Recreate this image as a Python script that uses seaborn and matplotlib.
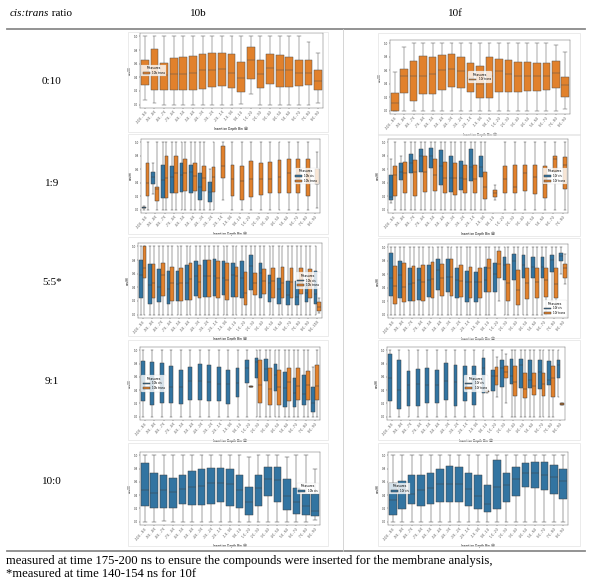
import numpy as np
import pandas as pd
import matplotlib
matplotlib.use("Agg")
import matplotlib.pyplot as plt
import seaborn as sns
from matplotlib.lines import Line2D
from matplotlib.patches import Rectangle

# ---------------- data (each box: [lo, q1, median, q3, hi]) ----------------
ROW_LABELS = ["0:10", "1:9", "5:5*", "9:1", "10:0"]
COL_LABELS = ["10b", "10f"]
BIN_LABELS = ["-10.0 - -9.0", "-9.0 - -8.0", "-8.0 - -7.0", "-7.0 - -6.0", "-6.0 - -5.0",
              "-5.0 - -4.0", "-4.0 - -3.0", "-3.0 - -2.0", "-2.0 - -1.0", "-1.0 - 0.0",
              "0.0 - 1.0", "1.0 - 2.0", "2.0 - 3.0", "3.0 - 4.0", "4.0 - 5.0",
              "5.0 - 6.0", "6.0 - 7.0", "7.0 - 8.0", "8.0 - 9.0", "9.0 - 10.0"]
X_LABEL = "Insertion Depth Bin (Å)"
Y_LABEL = "cos(θ)"
FOOTNOTE_1 = "measured at time 175-200 ns to ensure the compounds were inserted for the membrane analysis,"
FOOTNOTE_2 = "*measured at time 140-154 ns for 10f"

B_0_10_TRANS = [[0.06,0.28,0.45,0.66,1.0],[0.02,0.21,0.45,0.81,1.0],[0.0,0.21,0.43,0.61,1.0],
                [0.0,0.21,0.45,0.68,1.0],[0.0,0.21,0.45,0.70,1.0],[0.0,0.22,0.47,0.71,1.0],
                [0.0,0.23,0.50,0.74,1.0],[0.0,0.26,0.51,0.76,1.0],[0.0,0.27,0.52,0.76,1.0],
                [0.0,0.24,0.47,0.74,1.0],[0.01,0.18,0.39,0.63,1.0],[0.15,0.38,0.65,0.85,1.0],
                [0.0,0.25,0.45,0.66,1.0],[0.0,0.30,0.54,0.74,1.0],[0.0,0.26,0.51,0.73,1.0],
                [0.0,0.26,0.50,0.70,1.0],[0.0,0.27,0.47,0.65,1.0],[0.0,0.28,0.47,0.65,0.92],
                [0.02,0.22,0.35,0.51,0.75]]

F_0_10_TRANS = [[0.0,0.0,0.11,0.26,0.57],[0.0,0.26,0.52,0.62,0.95],[0.0,0.15,0.52,0.74,1.0],
                [0.0,0.25,0.52,0.81,1.0],[0.0,0.24,0.55,0.80,1.0],[0.0,0.30,0.61,0.82,1.0],
                [0.0,0.35,0.62,0.84,1.0],[0.0,0.34,0.59,0.79,1.0],[0.0,0.27,0.49,0.71,1.0],
                [0.0,0.19,0.40,0.67,1.0],[0.0,0.19,0.51,0.80,1.0],[0.0,0.28,0.59,0.77,1.0],
                [0.0,0.28,0.54,0.75,1.0],[0.0,0.28,0.52,0.72,1.0],[0.0,0.29,0.52,0.73,1.0],
                [0.0,0.29,0.52,0.71,1.0],[0.0,0.31,0.52,0.71,1.0],[0.0,0.33,0.56,0.74,0.97],
                [0.02,0.20,0.38,0.50,0.87]]

B_1_9_CIS = [[0.0,0.02,0.03,0.04,0.05],[0.23,0.38,0.49,0.56,0.70],[0.0,0.18,0.44,0.66,1.0],
             [0.0,0.24,0.49,0.65,1.0],[0.0,0.26,0.51,0.69,1.0],[0.0,0.25,0.56,0.66,1.0],
             [0.0,0.15,0.34,0.54,1.0],[0.0,0.11,0.26,0.41,0.60]]
B_1_9_TRANS = [[0.0,0.20,0.40,0.69,1.0],[0.0,0.13,0.30,0.34,1.0],[0.0,0.18,0.47,0.80,1.0],
               [0.0,0.24,0.55,0.79,1.0],[0.0,0.28,0.55,0.75,1.0],[0.0,0.27,0.50,0.69,1.0],
               [0.0,0.27,0.47,0.65,1.0],[0.0,0.26,0.49,0.63,1.0],[0.15,0.47,0.65,0.95,1.0],
               [0.0,0.21,0.46,0.67,1.0],[0.0,0.15,0.43,0.65,1.0],[0.0,0.19,0.45,0.73,1.0],
               [0.0,0.22,0.45,0.70,1.0],[0.0,0.24,0.45,0.71,1.0],[0.0,0.24,0.49,0.74,1.0],
               [0.0,0.25,0.54,0.76,1.0],[0.0,0.25,0.52,0.75,1.0],[0.0,0.21,0.56,0.75,1.0],
               [0.03,0.38,0.40,0.60,0.85]]

F_1_9_CIS = [[0.10,0.14,0.19,0.51,0.75],[0.0,0.44,0.56,0.70,0.80],[0.0,0.54,0.69,0.83,1.0],
             [0.0,0.56,0.79,0.90,1.0],[0.0,0.62,0.79,0.91,1.0],[0.0,0.37,0.65,0.88,1.0],
             [0.0,0.26,0.47,0.80,1.0],[0.0,0.29,0.47,0.73,1.0],[0.0,0.42,0.64,0.90,1.0],
             [0.0,0.48,0.64,0.79,1.0]]
F_1_9_TRANS = [[0.0,0.21,0.51,0.65,1.0],[0.0,0.24,0.55,0.71,1.0],[0.0,0.20,0.56,0.74,1.0],
               [0.0,0.26,0.56,0.79,1.0],[0.0,0.27,0.52,0.75,1.0],[0.0,0.24,0.47,0.71,1.0],
               [0.0,0.22,0.47,0.70,1.0],[0.0,0.24,0.46,0.67,1.0],[0.0,0.24,0.45,0.67,1.0],
               [0.0,0.16,0.33,0.56,1.0],[0.14,0.19,0.25,0.29,0.36],[0.0,0.24,0.45,0.65,1.0],
               [0.0,0.25,0.34,0.67,1.0],[0.0,0.27,0.55,0.67,1.0],[0.0,0.23,0.48,0.66,1.0],
               [0.0,0.17,0.38,0.65,1.0],[0.0,0.56,0.75,0.80,1.0],[0.0,0.30,0.66,0.78,1.0]]

B_5_5_CIS = [[0,0.25,0.58,0.80,1],[0,0.16,0.43,0.74,1],[0,0.19,0.41,0.67,1],[0,0.16,0.38,0.64,1],
             [0,0.20,0.45,0.64,1],[0,0.21,0.47,0.73,1],[0,0.27,0.56,0.79,1],[0,0.26,0.56,0.80,1],
             [0,0.27,0.56,0.82,1],[0,0.29,0.53,0.78,1],[0,0.26,0.58,0.75,1],[0,0.25,0.53,0.78,1],
             [0,0.36,0.71,0.88,1],[0,0.24,0.61,0.75,1],[0,0.19,0.46,0.58,1],[0,0.16,0.37,0.53,1],
             [0,0.14,0.29,0.49,1],[0,0.14,0.26,0.49,1],[0,0.19,0.31,0.46,1],[0,0.16,0.30,0.64,1]]
B_5_5_TRANS = [[0,0.53,0.68,1.0,1],[0,0.25,0.47,0.74,1],[0,0.27,0.58,0.76,1],[0,0.20,0.46,0.70,1],
               [0,0.20,0.47,0.69,1],[0,0.22,0.52,0.76,1],[0,0.24,0.48,0.73,1],[0,0.26,0.56,0.80,1],
               [0,0.24,0.54,0.79,1],[0,0.22,0.51,0.75,1],[0,0.26,0.56,0.70,1],[0,0.14,0.32,0.63,1],
               [0,0.29,0.47,0.61,1],[0,0.30,0.49,0.67,1],[0,0.24,0.49,0.68,1],[0,0.25,0.46,0.70,1],
               [0,0.25,0.48,0.68,1],[0,0.30,0.48,0.68,1],[0,0.24,0.46,0.67,1],[0.02,0.05,0.11,0.19,0.25]]

F_5_5_CIS = [[0,0.27,0.54,0.91,1],[0,0.25,0.59,0.80,1],[0,0.20,0.46,0.70,1],[0,0.22,0.51,0.70,1],
             [0,0.26,0.51,0.74,1],[0,0.36,0.67,0.83,1],[0,0.33,0.56,0.82,1],[0,0.24,0.52,0.70,1],
             [0,0.19,0.49,0.65,1],[0,0.19,0.49,0.64,1],[0,0.33,0.52,0.71,1],[0,0.34,0.60,0.77,1],
             [0,0.51,0.74,0.86,1],[0,0.51,0.79,0.90,1],[0,0.55,0.74,0.88,1],[0,0.54,0.71,0.86,1],
             [0,0.54,0.71,0.85,1],[0.2,0.64,0.81,0.88,1],[0.6,0.79,0.87,0.91,1]]
F_5_5_TRANS = [[0,0.16,0.43,0.72,1],[0,0.19,0.41,0.77,1],[0,0.20,0.47,0.72,1],[0,0.20,0.49,0.74,1],
               [0,0.25,0.53,0.78,1],[0,0.27,0.55,0.76,1],[0,0.27,0.56,0.82,1],[0,0.26,0.50,0.74,1],
               [0,0.25,0.49,0.71,1],[0,0.24,0.49,0.70,1],[0,0.34,0.70,0.83,1],[0.2,0.55,0.76,0.94,1],
               [0,0.21,0.47,0.75,1],[0,0.14,0.36,0.66,1],[0,0.23,0.47,0.70,1],[0,0.25,0.49,0.70,1],
               [0,0.26,0.51,0.69,1],[0.1,0.25,0.45,0.69,1],[0.45,0.54,0.69,0.76,0.9]]

B_9_1_CIS = [[0,0.24,0.52,0.84,1],[0,0.18,0.53,0.82,1],[0,0.20,0.52,0.81,1],[0,0.20,0.45,0.76,1],
             [0,0.19,0.45,0.70,1],[0,0.25,0.54,0.75,1],[0,0.25,0.54,0.79,1],[0,0.24,0.52,0.78,1],
             [0,0.24,0.49,0.75,1],[0,0.19,0.49,0.71,1],[0,0.30,0.51,0.73,1],[0,0.51,0.73,0.86,1],
             [0,0.58,0.83,0.88,1],[0,0.54,0.72,0.87,1],[0,0.38,0.63,0.79,1],[0,0.15,0.43,0.68,1],
             [0,0.15,0.35,0.58,1],[0,0.18,0.34,0.63,1],[0,0.07,0.20,0.44,0.75]]
B_9_1_TRANS = [None, None, None, None, None, None, None, None, None, None, None,
               [0.44,0.45,0.45,0.46,0.46],[0,0.20,0.48,0.86,1],[0,0.18,0.41,0.73,1],
               [0,0.18,0.44,0.71,1],[0,0.23,0.52,0.74,1],[0,0.25,0.46,0.73,1],
               [0,0.25,0.48,0.69,1],[0,0.25,0.46,0.78,1]]

F_9_1_CIS = [[0,0.23,0.58,0.95,1],[0,0.12,0.40,0.86,1],[0,0.16,0.48,0.69,1],[0,0.16,0.49,0.72,1],
             [0,0.20,0.48,0.74,1],[0,0.20,0.48,0.71,1],[0,0.25,0.54,0.81,1],[0,0.16,0.53,0.78,1],
             [0,0.23,0.52,0.77,1],[0,0.18,0.48,0.76,1],[0,0.35,0.73,0.88,1],[0,0.39,0.62,0.71,1],
             [0,0.44,0.73,0.86,1],[0,0.49,0.62,0.87,1],[0,0.43,0.78,0.87,1],[0,0.43,0.56,0.86,1],
             [0,0.42,0.68,0.86,1],[0,0.48,0.56,0.84,1],[0.3,0.59,0.78,0.86,1]]
F_9_1_TRANS = [None, None, None, None, None, None, None, None, None, None,
               [0.35,0.37,0.38,0.39,0.40],[0.3,0.47,0.61,0.75,0.9],[0.2,0.58,0.67,0.77,0.95],
               [0,0.31,0.53,0.77,1],[0,0.28,0.41,0.66,1],[0,0.32,0.46,0.66,1],
               [0,0.31,0.49,0.66,1],[0,0.30,0.58,0.76,1],[0.17,0.18,0.19,0.20,0.21]]

B_10_0_CIS = [[0,0.23,0.47,0.88,1],[0,0.20,0.43,0.74,1],[0.01,0.21,0.48,0.70,1],[0,0.20,0.44,0.66,1],
              [0,0.26,0.49,0.70,1],[0,0.25,0.53,0.76,1],[0,0.25,0.54,0.79,1],[0,0.27,0.58,0.81,1],
              [0,0.30,0.59,0.81,1],[0,0.24,0.57,0.79,1],[0,0.21,0.47,0.70,1],[0,0.10,0.30,0.52,0.97],
              [0,0.23,0.51,0.71,1],[0,0.39,0.64,0.83,1],[0,0.29,0.63,0.83,1],[0,0.18,0.38,0.65,0.98],
              [0,0.12,0.30,0.51,1],[0,0.10,0.23,0.41,1],[0.02,0.09,0.16,0.41,0.80]]

F_10_0_CIS = [[0,0.10,0.33,0.59,1],[0,0.19,0.50,0.61,1],[0,0.26,0.41,0.70,1],[0,0.24,0.47,0.70,1],
              [0,0.27,0.51,0.74,1],[0,0.29,0.57,0.80,1],[0,0.29,0.57,0.84,1],[0,0.29,0.57,0.82,1],
              [0,0.24,0.49,0.73,1],[0,0.19,0.39,0.70,1],[0,0.14,0.26,0.55,1],[0,0.19,0.53,0.93,1],
              [0,0.30,0.55,0.74,1],[0,0.39,0.64,0.82,1],[0,0.52,0.73,0.88,1],[0,0.50,0.74,0.90,1],
              [0,0.48,0.71,0.90,1],[0,0.41,0.68,0.86,1],[0,0.34,0.61,0.80,1]]

COLORS = {"cis": "#1f77b4", "trans": "#ff7f0e"}

# panels: (axes rect in px (l, t, r, b), series, legend loc)
PANELS = [
    ((140, 33, 323, 108), [("10b trans", "trans", B_0_10_TRANS)], "center left"),
    ((390, 40, 570, 114), [("10f trans", "trans", F_0_10_TRANS)], "center"),
    ((141, 139, 320, 213), [("10b cis", "cis", B_1_9_CIS), ("10b trans", "trans", B_1_9_TRANS)], "center right"),
    ((388, 139, 568, 213), [("10f cis", "cis", F_1_9_CIS), ("10f trans", "trans", F_1_9_TRANS)], "center right"),
    ((138, 243, 322, 318), [("10b cis", "cis", B_5_5_CIS), ("10b trans", "trans", B_5_5_TRANS)], "center right"),
    ((388, 244, 568, 318), [("10f cis", "cis", F_5_5_CIS), ("10f trans", "trans", F_5_5_TRANS)], "lower right"),
    ((140, 347, 320, 420), [("10b cis", "cis", B_9_1_CIS), ("10b trans", "trans", B_9_1_TRANS)], "center left"),
    ((387, 347, 565, 420), [("10f cis", "cis", F_9_1_CIS), ("10f trans", "trans", F_9_1_TRANS)], "center"),
    ((140, 452, 320, 525), [("10b cis", "cis", B_10_0_CIS)], "center right"),
    ((388, 452, 568, 525), [("10f cis", "cis", F_10_0_CIS)], "center left"),
]
FRAMES = [(128, 32, 328, 132), (378, 33, 580, 135),
          (128, 134, 328, 234), (378, 134, 580, 236),
          (128, 237, 328, 336), (378, 238, 580, 338),
          (128, 340, 328, 440), (378, 340, 580, 440),
          (128, 443, 328, 546), (378, 443, 580, 546)]

W, H = 589, 580
fig = plt.figure(figsize=(W / 100, H / 100), dpi=100)
fig.patch.set_facecolor("white")
SERIF = "Liberation Serif"


def fx(x):
    return x / W


def fy(y):
    return 1 - y / H


def draw_panel(rect, series, loc):
    l, t, r, b = rect
    ax = fig.add_axes([fx(l), fy(b), (r - l) / W, (b - t) / H])
    n = max(len(d) for _, _, d in series)
    rows = []
    for label, kind, data in series:
        for i, s in enumerate(data):
            if s is None:
                continue
            for v in s:
                rows.append((BIN_LABELS[i], label, v))
    df = pd.DataFrame(rows, columns=["bin", "Measures", "val"])
    hue_order = [lab for lab, _, _ in series]
    palette = {lab: COLORS[kind] for lab, kind, _ in series}
    sns.boxplot(data=df, x="bin", y="val", hue="Measures", order=BIN_LABELS[:n],
                hue_order=hue_order, palette=palette, whis=(0, 100), linewidth=0.35,
                fliersize=0.5, ax=ax, width=0.8)
    ax.set_ylim(-0.05, 1.05)
    ax.set_yticks([0, 0.2, 0.4, 0.6, 0.8, 1.0])
    ax.set_yticklabels(["0.0", "0.2", "0.4", "0.6", "0.8", "1.0"])
    ax.tick_params(axis="both", length=1, width=0.3, pad=0.6, labelsize=2, colors="#333333")
    for lab in ax.get_xticklabels():
        lab.set_rotation(50)
        lab.set_ha("right")
        lab.set_rotation_mode("anchor")
    ax.set_xlabel(X_LABEL, fontsize=2.2, labelpad=1.5)
    ax.set_ylabel(Y_LABEL, fontsize=2.2, labelpad=1)
    for sp in ax.spines.values():
        sp.set_linewidth(0.3)
        sp.set_color("#555555")
    sns.move_legend(ax, loc, title="Measures", fontsize=2, title_fontsize=2.2,
                    frameon=True, handlelength=2.5, handleheight=0.6, borderpad=0.5,
                    labelspacing=0.3)
    leg = ax.get_legend()
    leg.get_frame().set_linewidth(0.2)


for (rect, series, loc), fr in zip(PANELS, FRAMES):
    l, t, r, b = fr
    fig.patches.append(Rectangle((fx(l), fy(b)), (r - l) / W, (b - t) / H,
                                 transform=fig.transFigure, fill=False,
                                 edgecolor="#e3e3e3", linewidth=0.5))
    draw_panel(rect, series, loc)

# table rules
fig.add_artist(Line2D([fx(7), fx(585)], [fy(29), fy(29)], color="#8a8a8a", linewidth=1.3))
fig.add_artist(Line2D([fx(7), fx(585)], [fy(551), fy(551)], color="#8a8a8a", linewidth=1.3))
fig.add_artist(Line2D([fx(343), fx(343)], [fy(29), fy(551)], color="#cfcfcf", linewidth=0.6))

# header
t1 = fig.text(fx(10), fy(14), "cis:trans", fontsize=8, family=SERIF, style="italic", va="center")
fig.canvas.draw()
bb = t1.get_window_extent(fig.canvas.get_renderer())
fig.text(bb.x1 / W, fy(14), " ratio", fontsize=8, family=SERIF, va="center")
fig.text(fx(198), fy(14), COL_LABELS[0], fontsize=8, family=SERIF, ha="center", va="center")
fig.text(fx(455), fy(14), COL_LABELS[1], fontsize=8, family=SERIF, ha="center", va="center")

ROW_Y = [82, 183, 283, 381, 481]
for lab, y in zip(ROW_LABELS, ROW_Y):
    fig.text(fx(52), fy(y), lab, fontsize=8, family=SERIF, ha="center", va="center")

fig.text(fx(6), fy(561), FOOTNOTE_1, fontsize=9.1, family=SERIF, va="center")
fig.text(fx(6), fy(574), FOOTNOTE_2, fontsize=9.1, family=SERIF, va="center")

fig.savefig("out.png", dpi=100, facecolor="white")
